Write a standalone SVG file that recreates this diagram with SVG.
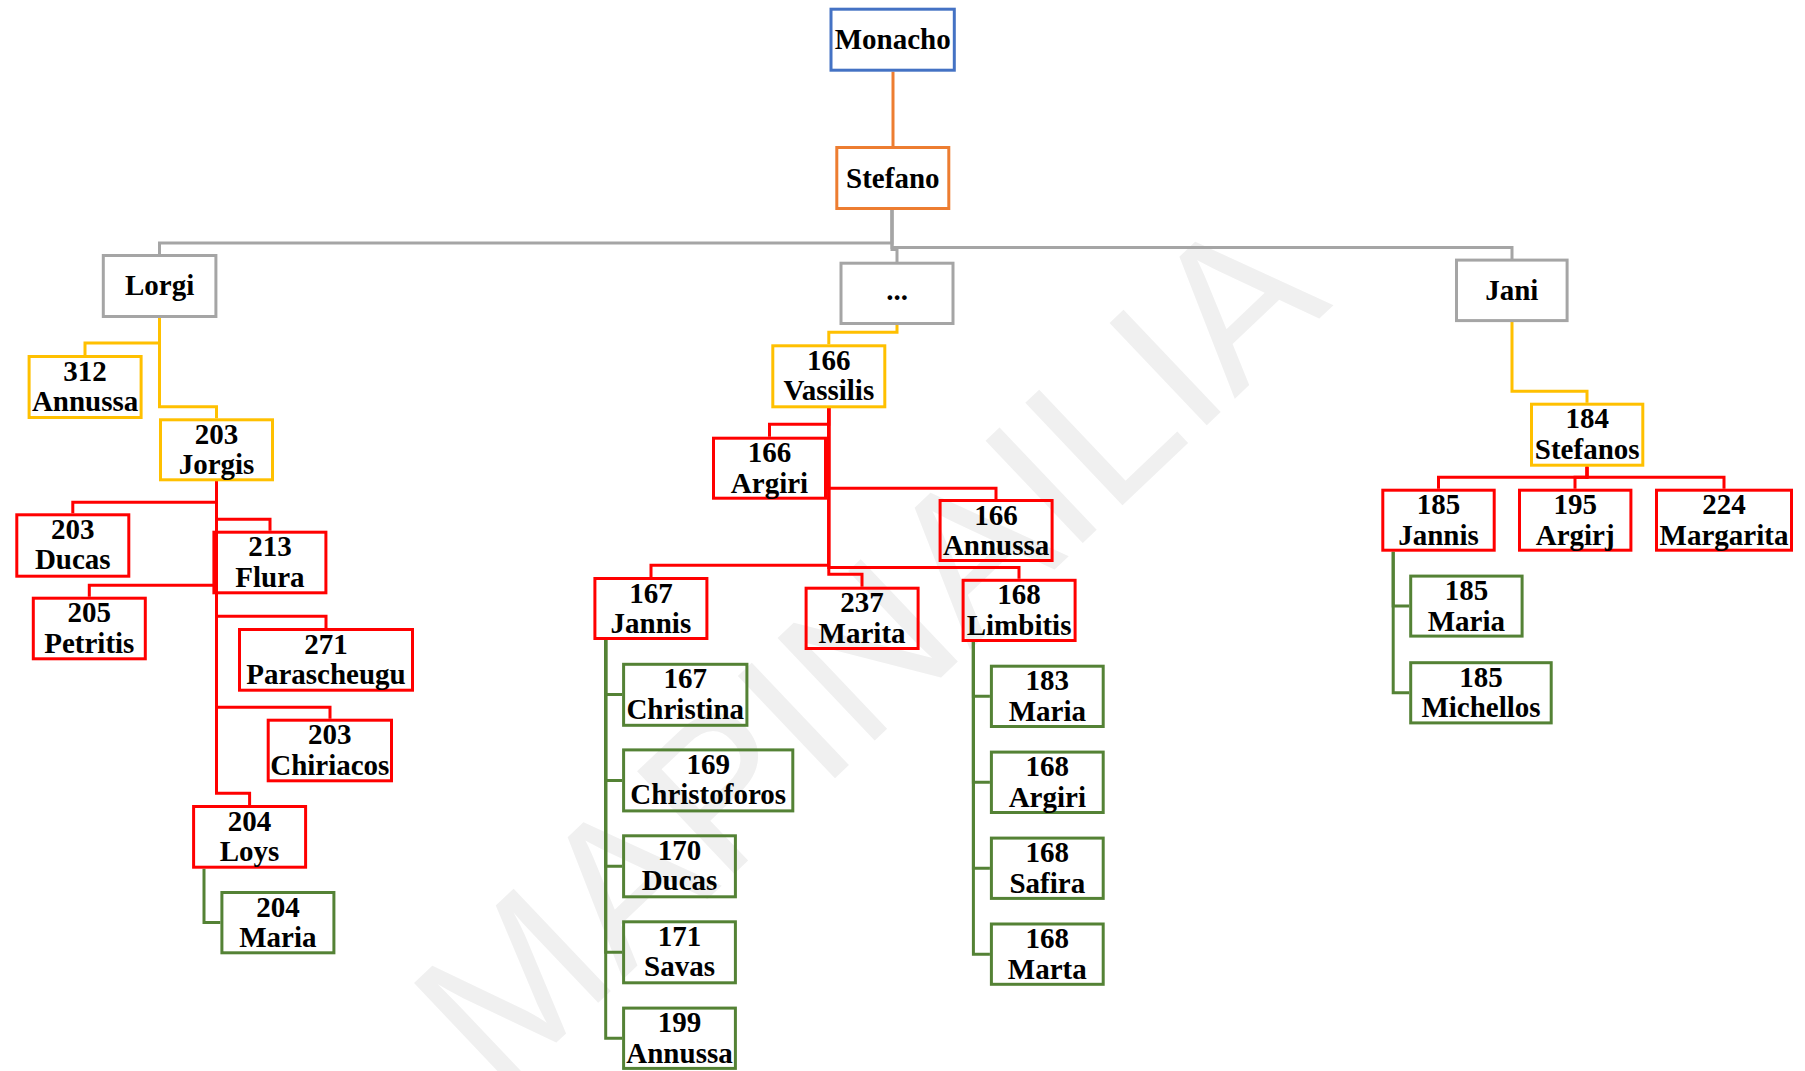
<svg xmlns="http://www.w3.org/2000/svg" width="1805" height="1071" viewBox="0 0 1805 1071">
<style>
.n rect{fill:none;stroke-width:3}
.n text{font-family:"Liberation Serif","Times New Roman",serif;font-weight:bold;font-size:29px;fill:#000;text-anchor:middle}
.blue rect{stroke:#4472C4}
.orange rect{stroke:#ED7D31}
.grey rect{stroke:#A5A5A5}
.yellow rect{stroke:#FFC000}
.red rect{stroke:#FF0000}
.green rect{stroke:#548235}
.c path{fill:none;stroke-width:3}
.c .co{stroke:#ED7D31}
.c .cg{stroke:#A5A5A5}
.c .cy{stroke:#FFC000}
.c .cr{stroke:#FF0000}
.c .cn{stroke:#548235}
.wm{font-family:"Liberation Sans",Arial,sans-serif;font-size:205px;fill:#F0F0F0}
</style>
<rect width="1805" height="1071" fill="#fff"/>
<text class="wm" x="866" y="721" text-anchor="middle" transform="rotate(-43.5 866 648)">MAPINAILIA</text>

<g id="connectors" class="c">
<path class="co" d="M893,71.7V146"/>
<path class="cg" d="M892,210V243H159.5V254"/>
<path class="cg" d="M892,210V249.5H897V262"/>
<path class="cg" d="M892,210V247.5H1512V259"/>
<path class="cy" d="M159.5,318V343H85V355"/>
<path class="cy" d="M159.5,318V406.7H216.5V418.3"/>
<path class="cy" d="M897,325V332.3H828.8V344.3"/>
<path class="cy" d="M1512,322V391.2H1587V402.7"/>
<path class="cr" d="M216.5,481V502.3H72.8V513.3"/>
<path class="cr" d="M216.5,481V519.3H270V530.7"/>
<path class="cr" d="M216.5,481V585.3H89.3V596.7"/>
<path class="cr" d="M216.5,481V616.3H326V628"/>
<path class="cr" d="M216.5,481V707.3H330V718.7"/>
<path class="cr" d="M216.5,481V793.3H249.6V805"/>
<path class="cr" d="M828.8,408V424.3H769.5V436.7"/>
<path class="cr" d="M828.8,408V488.3H996V499"/>
<path class="cr" d="M828.8,408V565.2H651V577"/>
<path class="cr" d="M828.8,408V567.4H1019V578.8"/>
<path class="cr" d="M828.8,408V574.2H862V586.7"/>
<path class="cr" d="M1587,466.6V477.3H1438.5V488.7"/>
<path class="cr" d="M1587,466.6V477.3H1575V488.7"/>
<path class="cr" d="M1587,466.6V477.3H1724V488.7"/>
<path class="cn" d="M204,868.7V922.6H220.4"/>
<path class="cn" d="M605.7,640V694.4H622.1"/>
<path class="cn" d="M605.7,640V780.4H622.1"/>
<path class="cn" d="M605.7,640V866.3H622.1"/>
<path class="cn" d="M605.7,640V952.3H622.1"/>
<path class="cn" d="M605.7,640V1038.2H622.1"/>
<path class="cn" d="M973.4,642V696.3H989.9"/>
<path class="cn" d="M973.4,642V782.3H989.9"/>
<path class="cn" d="M973.4,642V868.3H989.9"/>
<path class="cn" d="M973.4,642V954.2H989.9"/>
<path class="cn" d="M1393.2,551.7V606.1H1409.2"/>
<path class="cn" d="M1393.2,551.7V692.8H1409.2"/>
</g>

<g id="monacho" class="n blue"><rect x="831" y="9.2" width="123.3" height="61"/><text x="892.7" y="49.3">Monacho</text></g>
<g id="stefano" class="n orange"><rect x="836.8" y="147.5" width="112" height="61"/><text x="892.8" y="187.5">Stefano</text></g>
<g id="lorgi" class="n grey"><rect x="103.3" y="255.5" width="112.6" height="61"/><text x="159.6" y="295">Lorgi</text></g>
<g id="dots" class="n grey"><rect x="841" y="263.2" width="112" height="60.3"/><text x="897" y="300">...</text></g>
<g id="jani" class="n grey"><rect x="1456.5" y="260.1" width="110.6" height="60.5"/><text x="1511.8" y="299.6">Jani</text></g>

<g id="annussa312" class="n yellow"><rect x="29.1" y="356.5" width="112" height="61"/><text x="85.1" y="380.5">312</text><text x="85.1" y="411">Annussa</text></g>
<g id="jorgis203" class="n yellow"><rect x="160.5" y="419.8" width="112" height="60"/><text x="216.5" y="443.8">203</text><text x="216.5" y="474.3">Jorgis</text></g>
<g id="vassilis166" class="n yellow"><rect x="772.8" y="345.8" width="112" height="61"/><text x="828.8" y="369.8">166</text><text x="828.8" y="400.3">Vassilis</text></g>
<g id="stefanos184" class="n yellow"><rect x="1531.5" y="404.2" width="111.3" height="61"/><text x="1587.2" y="428.2">184</text><text x="1587.2" y="458.7">Stefanos</text></g>

<g id="ducas203" class="n red"><rect x="16.8" y="514.8" width="112" height="61.4"/><text x="72.8" y="538.8">203</text><text x="72.8" y="569.3">Ducas</text></g>
<g id="flura213" class="n red"><rect x="213.9" y="532.2" width="112" height="60.6"/><text x="269.9" y="556.2">213</text><text x="269.9" y="586.7">Flura</text></g>
<g id="petritis205" class="n red"><rect x="33.3" y="598.2" width="112" height="60.6"/><text x="89.3" y="622.2">205</text><text x="89.3" y="652.7">Petritis</text></g>
<g id="parascheugu271" class="n red"><rect x="239.5" y="629.5" width="173" height="60.7"/><text x="326" y="653.5">271</text><text x="326" y="684">Parascheugu</text></g>
<g id="chiriacos203" class="n red"><rect x="268.2" y="720.2" width="123.3" height="60.6"/><text x="329.8" y="744.2">203</text><text x="329.8" y="774.7">Chiriacos</text></g>
<g id="loys204" class="n red"><rect x="193.6" y="806.5" width="112" height="60.7"/><text x="249.6" y="830.5">204</text><text x="249.6" y="861">Loys</text></g>
<g id="maria204" class="n green"><rect x="221.9" y="892.5" width="112" height="60.3"/><text x="277.9" y="916.5">204</text><text x="277.9" y="947">Maria</text></g>

<g id="argiri166" class="n red"><rect x="713.5" y="438.2" width="112" height="60"/><text x="769.5" y="462.2">166</text><text x="769.5" y="492.7">Argiri</text></g>
<g id="annussa166" class="n red"><rect x="940.1" y="500.5" width="112" height="60"/><text x="996.1" y="524.5">166</text><text x="996.1" y="555">Annussa</text></g>
<g id="jannis167" class="n red"><rect x="594.9" y="578.5" width="112" height="60"/><text x="650.9" y="602.5">167</text><text x="650.9" y="633">Jannis</text></g>
<g id="marita237" class="n red"><rect x="806.1" y="588.2" width="112" height="60.3"/><text x="862.1" y="612.2">237</text><text x="862.1" y="642.7">Marita</text></g>
<g id="limbitis168" class="n red"><rect x="963.1" y="580.3" width="112" height="60.2"/><text x="1019.1" y="604.3">168</text><text x="1019.1" y="634.8">Limbitis</text></g>

<g id="christina167" class="n green"><rect x="623.6" y="664.3" width="123.3" height="61"/><text x="685.2" y="688.3">167</text><text x="685.2" y="718.8">Christina</text></g>
<g id="christoforos169" class="n green"><rect x="623.6" y="749.9" width="169.2" height="61"/><text x="708.2" y="773.9">169</text><text x="708.2" y="804.4">Christoforos</text></g>
<g id="ducas170" class="n green"><rect x="623.6" y="835.8" width="111.8" height="61"/><text x="679.5" y="859.8">170</text><text x="679.5" y="890.3">Ducas</text></g>
<g id="savas171" class="n green"><rect x="623.6" y="921.8" width="111.8" height="61"/><text x="679.5" y="945.8">171</text><text x="679.5" y="976.3">Savas</text></g>
<g id="annussa199" class="n green"><rect x="623.6" y="1008.1" width="111.8" height="60.3"/><text x="679.5" y="1032.1">199</text><text x="679.5" y="1062.6">Annussa</text></g>

<g id="maria183" class="n green"><rect x="991.4" y="666.2" width="111.8" height="60.3"/><text x="1047.3" y="690.2">183</text><text x="1047.3" y="720.7">Maria</text></g>
<g id="argiri168" class="n green"><rect x="991.4" y="752.1" width="111.8" height="60.4"/><text x="1047.3" y="776.1">168</text><text x="1047.3" y="806.6">Argiri</text></g>
<g id="safira168" class="n green"><rect x="991.4" y="838.1" width="111.8" height="60.3"/><text x="1047.3" y="862.1">168</text><text x="1047.3" y="892.6">Safira</text></g>
<g id="marta168" class="n green"><rect x="991.4" y="924" width="111.8" height="60.3"/><text x="1047.3" y="948">168</text><text x="1047.3" y="978.5">Marta</text></g>

<g id="jannis185" class="n red"><rect x="1382.8" y="490.2" width="111.4" height="60"/><text x="1438.5" y="514.2">185</text><text x="1438.5" y="544.7">Jannis</text></g>
<g id="argirj195" class="n red"><rect x="1519.5" y="490.2" width="111.4" height="60"/><text x="1575.2" y="514.2">195</text><text x="1575.2" y="544.7">Argirj</text></g>
<g id="margarita224" class="n red"><rect x="1656.5" y="490.2" width="135" height="60"/><text x="1724" y="514.2">224</text><text x="1724" y="544.7">Margarita</text></g>
<g id="maria185" class="n green"><rect x="1410.7" y="576.1" width="111.4" height="60"/><text x="1466.4" y="600.1">185</text><text x="1466.4" y="630.6">Maria</text></g>
<g id="michellos185" class="n green"><rect x="1410.7" y="662.7" width="140.5" height="60.2"/><text x="1481" y="686.7">185</text><text x="1481" y="717.2">Michellos</text></g>
</svg>
